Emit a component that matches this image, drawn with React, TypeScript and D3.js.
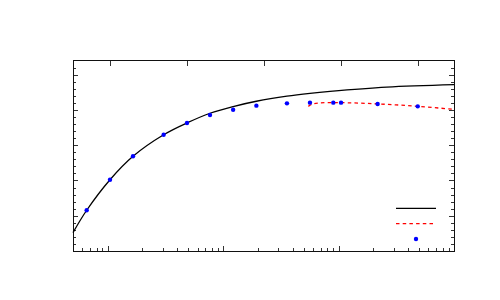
import { useEffect, useRef } from 'react';
import * as d3 from 'd3';

// model curve (solid black)
const curveX = [0.5, 0.657, 1.046, 1.655, 3.05, 4.86, 7.69, 12.2, 19.4, 35.7, 56.5, 84.3, 261, 1000];
const curveY = [0.104, 0.231, 0.404, 0.537, 0.659, 0.726, 0.781, 0.819, 0.849, 0.878, 0.894, 0.905, 0.929, 0.943];

// fit at high x (red dashed)
const fitX = [54.7, 58.8, 66.3, 103, 219.5, 487, 1000];
const fitY = [0.82, 0.832, 0.839, 0.841, 0.834, 0.82, 0.803];

// measured points (blue)
const pointX = [0.657, 1.046, 1.655, 3.05, 4.86, 7.69, 12.2, 19.4, 35.7, 56.5, 90, 105, 218, 485];
const pointY = [0.231, 0.404, 0.537, 0.659, 0.726, 0.771, 0.801, 0.824, 0.837, 0.841, 0.841, 0.841, 0.833, 0.82];

const yMajor = [0, 0.2, 0.4, 0.6, 0.8, 1.0];
const xMajor = [1, 10, 100, 1000];
const topMajor = [1, 10, 100, 1000, 10000];

export default function App() {
  const svgRef = useRef<SVGSVGElement>(null);

  useEffect(() => {
    const svg = d3.select(svgRef.current);
    svg.selectAll('*').remove();

    const width = 500;
    const height = 300;
    const margin = { top: 60.5, right: 46, bottom: 49, left: 73 };
    const x0 = margin.left;
    const x1 = width - margin.right;
    const y0 = height - margin.bottom;
    const y1 = margin.top;

    const x = d3.scaleLog().domain([0.5, 1000]).range([x0, x1]);
    const y = d3.scaleLinear().domain([0, 1.08]).range([y0, y1]);
    const xTop = d3.scaleLog().domain([0.334, 29600]).range([x0, x1]);

    const xMinor: number[] = [];
    [0.1, 1, 10, 100].forEach(d => {
      for (let k = 2; k <= 9; k++) {
        const v = d * k;
        if (v >= 0.5 && v <= 1000) xMinor.push(v);
      }
    });
    const yMinor = d3.range(0.04, 1.08, 0.04).filter(v => Math.abs(v / 0.2 - Math.round(v / 0.2)) > 0.01);

    const axisStyle = (g: any) => {
      g.select('.domain').remove();
      g.selectAll('text').remove();
      g.selectAll('line').attr('stroke', '#333').attr('shape-rendering', 'crispEdges');
    };

    // left
    svg.append('g').attr('transform', `translate(${x0},0)`)
      .call(d3.axisLeft(y).tickValues(yMajor).tickSize(-5).tickFormat(() => '')).call(axisStyle);
    svg.append('g').attr('transform', `translate(${x0},0)`)
      .call(d3.axisLeft(y).tickValues(yMinor).tickSize(-3).tickFormat(() => '')).call(axisStyle);
    // right
    svg.append('g').attr('transform', `translate(${x1},0)`)
      .call(d3.axisRight(y).tickValues(yMajor).tickSize(-5).tickFormat(() => '')).call(axisStyle);
    svg.append('g').attr('transform', `translate(${x1},0)`)
      .call(d3.axisRight(y).tickValues(yMinor).tickSize(-3).tickFormat(() => '')).call(axisStyle);
    // bottom (log)
    svg.append('g').attr('transform', `translate(0,${y0})`)
      .call(d3.axisBottom(x).tickValues(xMajor).tickSize(-5).tickFormat(() => '')).call(axisStyle);
    svg.append('g').attr('transform', `translate(0,${y0})`)
      .call(d3.axisBottom(x).tickValues(xMinor).tickSize(-3).tickFormat(() => '')).call(axisStyle);
    // top
    svg.append('g').attr('transform', `translate(0,${y1})`)
      .call(d3.axisTop(xTop).tickValues(topMajor).tickSize(-5).tickFormat(() => '')).call(axisStyle);

    // frame
    svg.append('rect')
      .attr('x', x0).attr('y', y1)
      .attr('width', x1 - x0).attr('height', y0 - y1)
      .attr('fill', 'none').attr('stroke', '#111').attr('stroke-width', 1)
      .attr('shape-rendering', 'crispEdges');

    const plot = svg.append('g');

    const line = d3.line<number>()
      .curve(d3.curveCatmullRom.alpha(0.5));

    plot.append('path')
      .attr('d', line.x(d => x(curveX[d])).y(d => y(curveY[d]))(d3.range(curveX.length)))
      .attr('fill', 'none').attr('stroke', '#000').attr('stroke-width', 1.3);

    plot.append('path')
      .attr('d', line.x(d => x(fitX[d])).y(d => y(fitY[d]))(d3.range(fitX.length)))
      .attr('fill', 'none').attr('stroke', '#ff0000').attr('stroke-width', 1.3)
      .attr('stroke-dasharray', '3.5,3.2');

    plot.selectAll('circle.pt')
      .data(pointX.map((v, i) => [v, pointY[i]]))
      .join('circle')
      .attr('class', 'pt')
      .attr('cx', d => x(d[0]))
      .attr('cy', d => y(d[1]))
      .attr('r', 2.2)
      .attr('fill', '#0000ff');

    // legend (no text)
    const legend = svg.append('g').attr('transform', 'translate(396,208.3)');
    legend.append('line').attr('x1', 0).attr('x2', 40).attr('y1', 0).attr('y2', 0)
      .attr('stroke', '#000').attr('stroke-width', 1.3);
    legend.append('line').attr('x1', 0).attr('x2', 40).attr('y1', 15.4).attr('y2', 15.4)
      .attr('stroke', '#ff0000').attr('stroke-width', 1.3).attr('stroke-dasharray', '3.5,3.2');
    legend.append('circle').attr('cx', 20).attr('cy', 30.7).attr('r', 2.2).attr('fill', '#0000ff');
  }, []);

  return (
    <svg
      ref={svgRef}
      width={500}
      height={300}
      style={{ position: 'absolute', left: 0, top: 0, background: '#fff' }}
    />
  );
}
